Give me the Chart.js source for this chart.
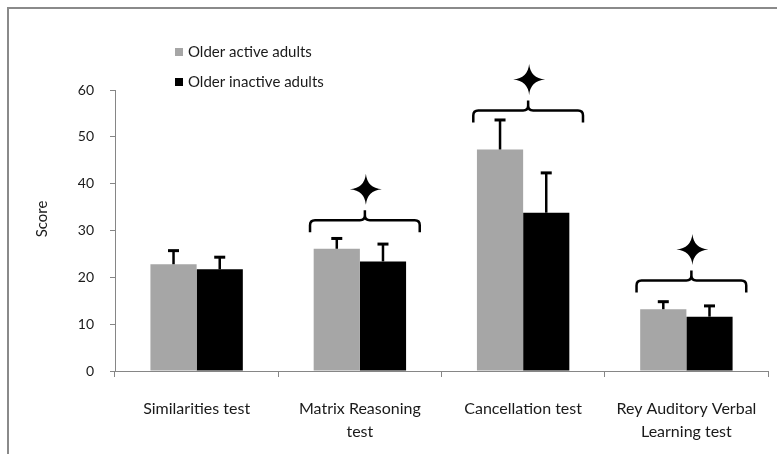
<!DOCTYPE html>
<html>
<head>
<meta charset="utf-8">
<script src="https://cdn.jsdelivr.net/npm/chart.js@4.4.1/dist/chart.umd.min.js"></script>
<style>
  html, body { margin: 0; padding: 0; background: #ffffff; }
  #wrap { width: 777px; height: 454px; position: relative; }
</style>
</head>
<body>
<div id="wrap"><canvas id="c" width="777" height="454"></canvas></div>
<script>
// ---- data ----
const categories = [
  'Similarities test',
  ['Matrix Reasoning', 'test'],
  'Cancellation test',
  ['Rey Auditory Verbal', 'Learning test']
];
const seriesNames = ['Older active adults', 'Older inactive adults'];
const activeMeans = [22.8, 26.1, 47.3, 13.2];
const activeSD = [2.9, 2.2, 6.3, 1.6];
const inactiveMeans = [21.7, 23.4, 33.8, 11.6];
const inactiveSD = [2.6, 3.7, 8.5, 2.3];
const significant = [false, true, true, true];
const yTicks = [0, 10, 20, 30, 40, 50, 60];
const yAxisTitle = 'Score';

const FONT = 'Lato';
const TXT = '#1a1a1a';
const AXIS = '#868686';

const errorBarPlugin = {
  id: 'errorBars',
  afterDatasetsDraw(chart, args, opts) {
    const ctx = chart.ctx;
    const y = chart.scales.y;
    ctx.save();
    ctx.strokeStyle = '#000';
    chart.data.datasets.forEach((ds, di) => {
      const meta = chart.getDatasetMeta(di);
      meta.data.forEach((bar, i) => {
        const top = y.getPixelForValue(ds.data[i] + ds.errors[i]);
        const base = y.getPixelForValue(ds.data[i]);
        ctx.lineWidth = 2.5;
        ctx.beginPath();
        ctx.moveTo(bar.x, base);
        ctx.lineTo(bar.x, top);
        ctx.stroke();
        ctx.lineWidth = 3;
        ctx.beginPath();
        ctx.moveTo(bar.x - 5.5, top);
        ctx.lineTo(bar.x + 5.5, top);
        ctx.stroke();
      });
    });
    ctx.restore();
  }
};

const bracePlugin = {
  id: 'braces',
  afterDatasetsDraw(chart, args, opts) {
    const ctx = chart.ctx;
    const x = chart.scales.x;
    const y = chart.scales.y;
    const catW = (x.right - x.left) / chart.data.labels.length;
    ctx.save();
    ctx.strokeStyle = '#000';
    ctx.fillStyle = '#000';
    ctx.lineWidth = 2.5;
    significant.forEach((sig, i) => {
      if (!sig) return;
      const cx = x.getPixelForValue(i) + 5;
      const hw = catW * 0.336;
      const ty = y.getPixelForValue(opts.levels[i]);
      const r = 5;
      // curly brace (opening downward)
      ctx.beginPath();
      ctx.moveTo(cx - hw, ty + 12);
      ctx.lineTo(cx - hw, ty + r);
      ctx.quadraticCurveTo(cx - hw, ty, cx - hw + r, ty);
      ctx.lineTo(cx - r, ty);
      ctx.quadraticCurveTo(cx, ty, cx, ty - r);
      ctx.lineTo(cx, ty - 10);
      ctx.moveTo(cx, ty - r);
      ctx.quadraticCurveTo(cx, ty, cx + r, ty);
      ctx.lineTo(cx + hw - r, ty);
      ctx.quadraticCurveTo(cx + hw, ty, cx + hw, ty + r);
      ctx.lineTo(cx + hw, ty + 12);
      ctx.stroke();
      // four-pointed star
      const sx = cx + 1, sy = ty - 31;
      const w = 16, h = 15.5, k = 1.3;
      ctx.beginPath();
      ctx.moveTo(sx, sy - h);
      ctx.quadraticCurveTo(sx + k, sy - k, sx + w, sy);
      ctx.quadraticCurveTo(sx + k, sy + k, sx, sy + h);
      ctx.quadraticCurveTo(sx - k, sy + k, sx - w, sy);
      ctx.quadraticCurveTo(sx - k, sy - k, sx, sy - h);
      ctx.closePath();
      ctx.fill();
      ctx.beginPath();
      ctx.arc(sx, sy, 3.2, 0, Math.PI * 2);
      ctx.fill();
    });
    ctx.restore();
  }
};

const decorPlugin = {
  id: 'decor',
  beforeDraw(chart) {
    const ctx = chart.ctx;
    ctx.save();
    ctx.fillStyle = '#fff';
    ctx.fillRect(0, 0, chart.width, chart.height);
    ctx.strokeStyle = '#8a8a8a';
    ctx.lineWidth = 2;
    ctx.beginPath();
    ctx.moveTo(8, chart.height + 2);
    ctx.lineTo(8, 8);
    ctx.lineTo(chart.width + 2, 8);
    ctx.stroke();
    ctx.restore();
  },
  afterDraw(chart) {
    const ctx = chart.ctx;
    ctx.save();
    // y axis title
    ctx.fillStyle = TXT;
    ctx.font = '15px ' + FONT;
    ctx.textAlign = 'center';
    ctx.textBaseline = 'middle';
    ctx.translate(42, 219);
    ctx.rotate(-Math.PI / 2);
    ctx.fillText(yAxisTitle, 0, 0);
    ctx.restore();
    // legend (vertical, inside plot area)
    ctx.save();
    ctx.font = '15px ' + FONT;
    ctx.textBaseline = 'middle';
    chart.data.datasets.forEach((ds, i) => {
      const ly = 52 + i * 30;
      ctx.fillStyle = ds.backgroundColor;
      ctx.fillRect(175, ly - 4, 8, 8);
      ctx.fillStyle = TXT;
      ctx.textAlign = 'left';
      ctx.fillText(ds.label, 188, ly);
    });
    ctx.restore();
  }
};

new Chart(document.getElementById('c'), {
  type: 'bar',
  data: {
    labels: categories,
    datasets: [
      { label: seriesNames[0], data: activeMeans, errors: activeSD,
        backgroundColor: '#a6a6a6', borderWidth: 0 },
      { label: seriesNames[1], data: inactiveMeans, errors: inactiveSD,
        backgroundColor: '#000000', borderWidth: 0 }
    ]
  },
  options: {
    responsive: false,
    animation: false,
    devicePixelRatio: 1,
    layout: { padding: { left: 0, top: 90, right: 5, bottom: 0 } },
    datasets: { bar: { categoryPercentage: 0.566, barPercentage: 1.0 } },
    plugins: {
      legend: { display: false },
      tooltip: { enabled: false },
      braces: { levels: [null, 32.2, 55.6, 19.3] }
    },
    scales: {
      x: {
        grid: { display: true, drawOnChartArea: false, drawTicks: true, tickLength: 6, color: AXIS, offset: true },
        border: { display: true, color: AXIS, width: 1 },
        ticks: { color: TXT, font: { family: FONT, size: 16, lineHeight: '23px' }, padding: 20, maxRotation: 0, autoSkip: false },
        afterFit(s) { s.height = 83; }
      },
      y: {
        min: 0, max: 60,
        afterBuildTicks(s) { s.ticks = yTicks.map(v => ({ value: v })); },
        grid: { display: true, drawOnChartArea: false, drawTicks: true, tickLength: 5, color: AXIS },
        border: { display: true, color: AXIS, width: 1 },
        ticks: { color: TXT, font: { family: FONT, size: 14 }, padding: 16 },
        afterFit(s) { s.width = 115; }
      }
    }
  },
  plugins: [decorPlugin, errorBarPlugin, bracePlugin]
});
</script>
</body>
</html>
